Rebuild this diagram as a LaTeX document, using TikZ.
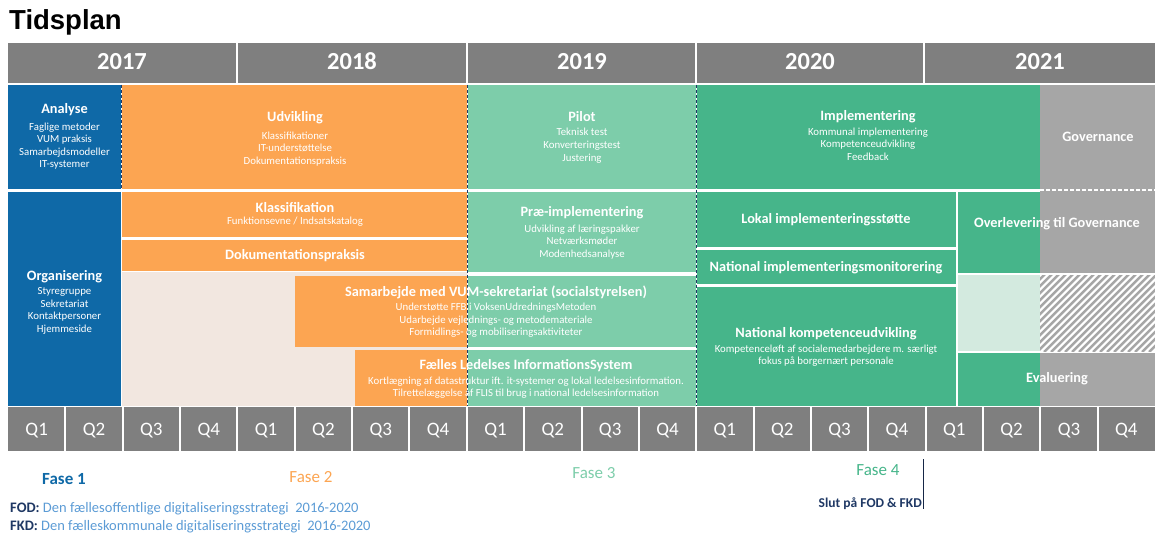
\documentclass[tikz,border=0pt]{standalone}
\usepackage{fontspec}
\setmainfont{Carlito}
\newfontfamily\headfont{Liberation Sans}
\usetikzlibrary{positioning}

\definecolor{faseblue}{HTML}{0F69A7}
\definecolor{faseorange}{HTML}{FCA552}
\definecolor{faselight}{HTML}{7DCDAA}
\definecolor{fasegreen}{HTML}{46B58A}
\definecolor{hdrgray}{HTML}{7F7F7F}
\definecolor{govgray}{HTML}{A6A6A6}
\definecolor{beige}{HTML}{F2E7E0}
\definecolor{palegreen}{HTML}{D3EADF}
\definecolor{navy}{HTML}{1F3864}
\definecolor{fodblue}{HTML}{5B9BD5}

\tikzset{
	ttl/.style={inner sep=0pt, text=white, align=center,
		font=\fontsize{14.3}{17}\selectfont\bfseries},
	sub/.style={inner sep=0pt, text=white, align=center,
		font=\fontsize{10.8}{12.6}\selectfont},
	yearlbl/.style={inner sep=0pt, anchor=base, text=white,
		font=\fontsize{24.5}{26}\selectfont\bfseries},
	qlbl/.style={inner sep=0pt, anchor=base, text=white,
		font=\fontsize{19}{21}\selectfont},
	faselbl/.style={inner sep=0pt, font=\fontsize{17}{19}\selectfont},
	noteline/.style={inner sep=0pt, anchor=west, text=fodblue,
		font=\fontsize{14.5}{16}\selectfont},
	phaseline/.style={navy, line width=0.8pt, dash pattern=on 3pt off 2pt},
	gapline/.style={white, line width=2pt},
}

\begin{document}
\begin{tikzpicture}[x=1pt,y=-1pt]

% frame %{{{1

	\useasboundingbox (0,0) rectangle (1155,537);

	\node (title) [inner sep=0pt, anchor=base west, font=\headfont\fontsize{27.5}{29}\selectfont\bfseries]
		at (9,30) {Tidsplan};

% year header %{{{1

	\fill[hdrgray] (8,43) rectangle (1155,83);
	\draw[gapline] (237,43) -- (237,83);
	\draw[gapline] (467,43) -- (467,83);
	\draw[gapline] (696,43) -- (696,83);
	\draw[gapline] (924,43) -- (924,83);

	\node (y2017) [yearlbl] at (122,70) {2017};
	\node (y2018) [yearlbl] at (352,70) {2018};
	\node (y2019) [yearlbl] at (582,70) {2019};
	\node (y2020) [yearlbl] at (810,70) {2020};
	\node (y2021) [yearlbl] at (1040,70) {2021};

% fase 1 blocks %{{{1

	\fill[faseblue] (8,85) rectangle (121,189);
	\fill[faseblue] (8,192) rectangle (121,406);

% fase 2 blocks %{{{1

	\fill[faseorange] (122,85) rectangle (467,189);
	\fill[faseorange] (122,192) rectangle (467,237);
	\fill[faseorange] (122,239.5) rectangle (467,270.5);
	\fill[beige] (122,272) rectangle (467,406);
	\fill[faseorange] (295,276) rectangle (467,347);
	\fill[faseorange] (355,350) rectangle (467,406);

% fase 3 blocks %{{{1

	\fill[faselight] (468,85) rectangle (696,189);
	\fill[faselight] (468,192) rectangle (696,272);
	\fill[faselight] (468,276) rectangle (696,347);
	\fill[faselight] (468,350) rectangle (696,406);

% fase 4 blocks %{{{1

	\fill[fasegreen] (697,85) rectangle (1040,189);
	\fill[govgray] (1040,85) rectangle (1155,273);
	\draw[gapline, dash pattern=on 4pt off 2pt] (1040,190.5) -- (1155,190.5);

	\fill[fasegreen] (697,192) rectangle (956,247);
	\fill[fasegreen] (697,250) rectangle (956,284);
	\fill[fasegreen] (697,287) rectangle (956,406);

	\fill[fasegreen] (958,192) rectangle (1040,273);
	\fill[palegreen] (958,275) rectangle (1040,351);
	\fill[fasegreen] (958,353) rectangle (1040,406);
	\fill[govgray] (1040,353) rectangle (1155,406);

	\begin{scope}
		\clip (1040,275) rectangle (1155,351);
		\fill[white] (1040,275) rectangle (1155,351);
		\foreach \k in {0,...,28}
			\draw[govgray, line width=2.5pt] ({1040+\k*7-80},352) -- ++(80,-80);
	\end{scope}

% phase borders %{{{1

	\draw[phaseline] (121.5,85) -- (121.5,189);
	\draw[phaseline] (467.5,85) -- (467.5,406);
	\draw[phaseline] (696.5,85) -- (696.5,406);

% block labels %{{{1

	\node (analyse) [ttl] at (64.5,110) {Analyse};
	\node (analyse sub) [sub, below=6pt of analyse]
		{Faglige metoder\\VUM praksis\\Samarbejdsmodeller\\IT-systemer};

	\node (organisering) [ttl] at (64.5,277) {Organisering};
	\node (organisering sub) [sub, below=4pt of organisering]
		{Styregruppe\\Sekretariat\\Kontaktpersoner\\Hjemmeside};

	\node (udvikling) [ttl] at (295,118) {Udvikling};
	\node (udvikling sub) [sub, below=7pt of udvikling]
		{Klassifikationer\\IT-understøttelse\\Dokumentationspraksis};

	\node (klass) [ttl] at (295,208) {Klassifikation};
	\node (klass sub) [sub, below=4pt of klass] {Funktionsevne / Indsatskatalog};

	\node (dok) [ttl] at (295,256) {Dokumentationspraksis};

	\node (pilot) [ttl] at (582,117) {Pilot};
	\node (pilot sub) [sub, below=6pt of pilot]
		{Teknisk test\\Konverteringstest\\Justering};

	\node (praeimpl) [ttl] at (582,213) {Præ-implementering};
	\node (praeimpl sub) [sub, below=5pt of praeimpl]
		{Udvikling af læringspakker\\Netværksmøder\\Modenhedsanalyse};

	\node (samarbejde) [ttl] at (496,292) {Samarbejde med VUM-sekretariat (socialstyrelsen)};
	\node (samarbejde sub) [sub, below=4pt of samarbejde]
		{Understøtte FFB i VoksenUdredningsMetoden\\Udarbejde vejlednings- og metodemateriale\\Formidlings- og mobiliseringsaktiviteter};

	\node (flis) [ttl] at (526,366) {Fælles Ledelses InformationsSystem};
	\node (flis sub) [sub, below=4pt of flis]
		{Kortlægning af datastruktur ift. it-systemer og lokal ledelsesinformation.\\Tilrettelæggelse af FLIS til brug i national ledelsesinformation};

	\node (impl) [ttl] at (868,117) {Implementering};
	\node (impl sub) [sub, below=4pt of impl]
		{Kommunal implementering\\Kompetenceudvikling\\Feedback};

	\node (governance) [ttl] at (1098,137) {Governance};

	\node (lokal) [ttl] at (826,220) {Lokal implementeringsstøtte};
	\node (monitor) [ttl] at (826,268) {National implementeringsmonitorering};

	\node (kompetence) [ttl] at (826,334) {National kompetenceudvikling};
	\node (kompetence sub) [sub, below=4pt of kompetence]
		{Kompetenceløft af socialemedarbejdere m. særligt\\fokus på borgernært personale};

	\node (overlevering) [ttl] at (1057,224) {Overlevering til Governance};
	\node (evaluering) [ttl] at (1057,379) {Evaluering};

% quarters %{{{1

	\fill[hdrgray] (8,407) rectangle (1155,451);
	\foreach \i in {1,...,19}
		\draw[gapline] ({8+\i*57.35},407) -- ({8+\i*57.35},451);
	\foreach \i in {0,...,19} {
		\pgfmathtruncatemacro{\q}{mod(\i,4)+1}
		\node (q\i) [qlbl] at ({8+(\i+0.5)*57.35},435.5) {Q\q};
	}

% phases and notes %{{{1

	\node (fase1) [faselbl, text=faseblue, font=\fontsize{17}{19}\selectfont\bfseries] at (64,479) {Fase 1};
	\node (fase2) [faselbl, text=faseorange] at (311,477) {Fase 2};
	\node (fase3) [faselbl, text=faselight] at (594,473) {Fase 3};
	\node (fase4) [faselbl, text=fasegreen] at (878,470) {Fase 4};

	\coordinate (slut top) at (923.5,459);
	\coordinate (slut bottom) at (923.5,509);
	\draw[navy!70!black, line width=0.7pt] (slut top) -- (slut bottom);
	\node (slut) [inner sep=0pt, anchor=east, text=navy, font=\fontsize{13.5}{15}\selectfont\bfseries]
		at (922,504) {Slut på FOD \& FKD};

	\node (fod) [noteline] at (10,509)
		{\textcolor{navy}{\bfseries FOD:} Den fællesoffentlige digitaliseringsstrategi~~2016-2020};
	\node (fkd) [noteline] at (10,527)
		{\textcolor{navy}{\bfseries FKD:} Den fælleskommunale digitaliseringsstrategi~~2016-2020};

% closing %{{{1

\end{tikzpicture}
\end{document}
